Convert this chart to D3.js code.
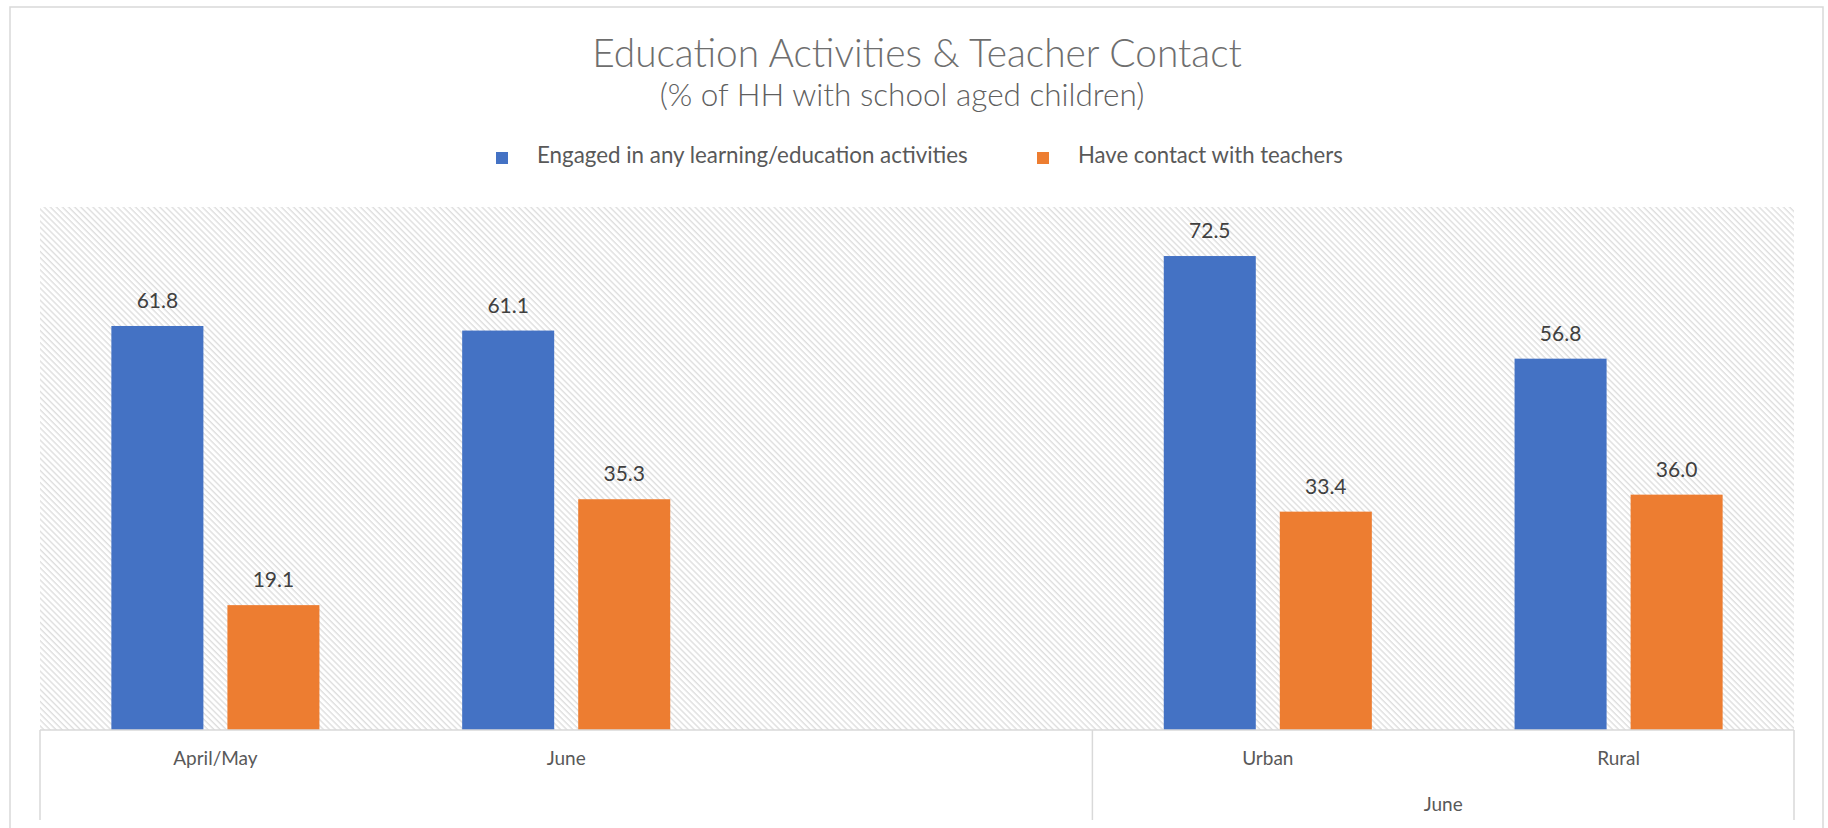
<!DOCTYPE html>
<meta charset="utf-8">
<script src="https://d3js.org/d3.v7.min.js"></script>
<style>
  body { margin: 0; background: #fff; }
  text { font-family: Lato, "Open Sans", sans-serif; }
</style>
<div id="chart"></div>
<script>
// chart data
var categories = ["April/May", "June", "", "Urban", "Rural"];
var seriesNames = ["Engaged in any learning/education activities", "Have contact with teachers"];
var engaged = [61.8, 61.1, null, 72.5, 56.8];
var teachers = [19.1, 35.3, null, 33.4, 36.0];
var groupNames = ["", "June"];
var groupSizes = [3, 2];
var colors = ["#4472C4", "#ED7D31"];

var W = 1828, H = 828;
var margin = {top: 207, right: 34, bottom: 98, left: 40};

var svg = d3.select("#chart").append("svg")
    .attr("width", W)
    .attr("height", H);

// hatch fill for the plot area
var defs = svg.append("defs");
defs.append("pattern")
    .attr("id", "hatch")
    .attr("patternUnits", "userSpaceOnUse")
    .attr("width", 4.3)
    .attr("height", 4.3)
    .attr("patternTransform", "rotate(-45)")
  .append("line")
    .attr("x1", 1).attr("y1", 0)
    .attr("x2", 1).attr("y2", 4.3)
    .attr("stroke", "#dcdcdc")
    .attr("stroke-width", 1.3);

// outer frame
svg.append("rect")
    .attr("x", 10).attr("y", 7)
    .attr("width", 1813).attr("height", 840)
    .attr("fill", "none")
    .attr("stroke", "#d9d9d9")
    .attr("stroke-width", 1.5);

// shrink text so it covers a given width
function fit(sel, w) {
  sel.each(function() {
    var t = d3.select(this);
    var fs = parseFloat(t.attr("font-size"));
    var len = this.getComputedTextLength();
    if (len > 0) t.attr("font-size", fs * w / len);
  });
}

// titles
svg.append("text")
    .attr("x", 917).attr("y", 67)
    .attr("text-anchor", "middle")
    .attr("font-size", 32)
    .attr("font-weight", 300)
    .attr("fill", "#6e6e6e")
    .text("Education Activities & Teacher Contact")
    .call(fit, 650);

svg.append("text")
    .attr("x", 902).attr("y", 106)
    .attr("text-anchor", "middle")
    .attr("font-size", 21)
    .attr("font-weight", 300)
    .attr("fill", "#5f5f5f")
    .text("(% of HH with school aged children)")
    .call(fit, 485);

// legend
var legendX = [496, 1037];
var legendTextW = [431, 265];
var legend = svg.append("g").selectAll("g")
    .data(seriesNames)
    .enter().append("g")
    .attr("transform", function(d, i) { return "translate(" + legendX[i] + ",152)"; });
legend.append("rect")
    .attr("width", 12).attr("height", 12)
    .attr("fill", function(d, i) { return colors[i]; });
legend.append("text")
    .attr("x", 41).attr("y", 11)
    .attr("font-size", 17)
    .attr("fill", "#595959")
    .text(function(d) { return d; })
    .each(function(d, i) { fit(d3.select(this), legendTextW[i]); });

// scales
var x0 = d3.scaleBand()
    .domain(d3.range(categories.length))
    .range([margin.left, W - margin.right]);

var x1 = d3.scaleBand()
    .domain(d3.range(seriesNames.length))
    .range([0, x0.bandwidth()])
    .paddingInner(0.207)
    .paddingOuter(0.615);

var y = d3.scaleLinear()
    .domain([0, 80])
    .range([H - margin.bottom, margin.top]);

var plotBottom = y(0);

svg.append("rect")
    .attr("x", margin.left).attr("y", margin.top)
    .attr("width", W - margin.right - margin.left)
    .attr("height", plotBottom - margin.top)
    .attr("fill", "url(#hatch)");

var rows = categories.map(function(c, i) {
  return [engaged[i], teachers[i]];
});

var slot = svg.append("g").selectAll("g")
    .data(rows)
    .enter().append("g")
    .attr("transform", function(d, i) { return "translate(" + x0(i) + ",0)"; });

var cells = slot.selectAll("g")
    .data(function(d) { return d.map(function(v, j) { return {v: v, j: j}; }).filter(function(e) { return e.v != null; }); })
    .enter().append("g");

cells.append("rect")
    .attr("x", function(d) { return x1(d.j); })
    .attr("width", x1.bandwidth())
    .attr("y", function(d) { return y(d.v); })
    .attr("height", function(d) { return plotBottom - y(d.v); })
    .attr("fill", function(d) { return colors[d.j]; });

cells.append("text")
    .attr("x", function(d) { return x1(d.j) + x1.bandwidth() / 2; })
    .attr("y", function(d) { return y(d.v) - 18; })
    .attr("text-anchor", "middle")
    .attr("font-size", 21)
    .attr("fill", "#404040")
    .text(function(d) { return d.v.toFixed(1); });

// category axis (two levels)
var axisColor = "#d9d9d9";
svg.append("line")
    .attr("x1", margin.left).attr("x2", W - margin.right)
    .attr("y1", plotBottom).attr("y2", plotBottom)
    .attr("stroke", axisColor).attr("stroke-width", 1.5);

svg.append("g").selectAll("text")
    .data(categories)
    .enter().append("text")
    .attr("x", function(d, i) { return x0(i) + x0.bandwidth() / 2; })
    .attr("y", 765)
    .attr("text-anchor", "middle")
    .attr("font-size", 19)
    .attr("fill", "#595959")
    .text(function(d) { return d; });

var bounds = [0];
groupSizes.forEach(function(n, i) { bounds.push(bounds[i] + n); });

svg.append("g").selectAll("line")
    .data(bounds)
    .enter().append("line")
    .attr("x1", function(b) { return b < categories.length ? x0(b) : x0.range()[1]; })
    .attr("x2", function(b) { return b < categories.length ? x0(b) : x0.range()[1]; })
    .attr("y1", plotBottom)
    .attr("y2", 820)
    .attr("stroke", axisColor)
    .attr("stroke-width", 1.5);

svg.append("g").selectAll("text")
    .data(groupNames)
    .enter().append("text")
    .attr("x", function(d, i) {
      var a = x0(bounds[i]);
      var b = bounds[i + 1] < categories.length ? x0(bounds[i + 1]) : x0.range()[1];
      return (a + b) / 2;
    })
    .attr("y", 811)
    .attr("text-anchor", "middle")
    .attr("font-size", 19)
    .attr("fill", "#595959")
    .text(function(d) { return d; });
</script>
